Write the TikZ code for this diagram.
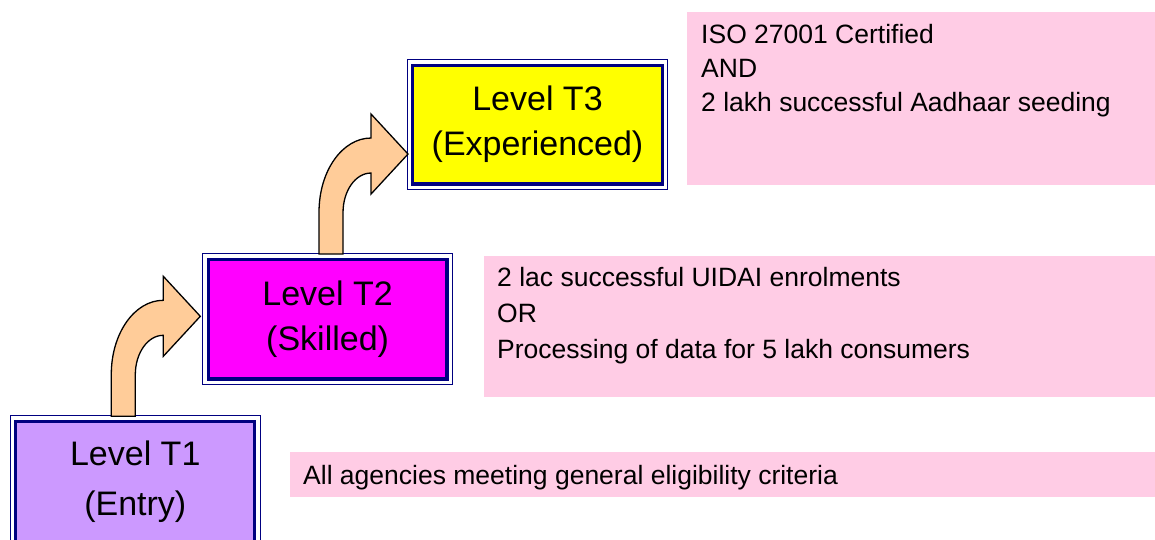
\documentclass[tikz,border=0pt]{standalone}
\usepackage{fontspec}
\setmainfont{Liberation Sans}
\definecolor{navyline}{HTML}{000080}
\definecolor{entryfill}{HTML}{CC99FF}
\definecolor{skillfill}{HTML}{FF00FF}
\definecolor{expfill}{HTML}{FFFF00}
\definecolor{condpink}{HTML}{FFCCE5}
\definecolor{peach}{HTML}{FFCC99}
\tikzset{
	bentup/.pic={
		\draw[bentbody] (0,0) -- (0,-42)
		.. controls (0,-83) and (23.3,-116) .. (52,-116)
		-- (52,-140) -- (89,-100) -- (52,-60) -- (52,-81)
		.. controls (36.5,-81) and (24,-63.3) .. (24,-41.5)
		-- (24,0) -- cycle;
	}
}
\begin{document}
\begin{tikzpicture}[x=1pt,y=-1pt,line join=miter,
			level/.style={draw=navyline,line width=3.4pt,align=center,
				inner sep=0pt,font=\fontsize{34}{45}\selectfont},
			cond/.style={fill=condpink,inner sep=0pt,anchor=north west},
			condtext/.style={anchor=base west,align=left,inner sep=0pt,
				font=\fontsize{26.5}{34}\selectfont},
			bentbody/.style={fill=peach,draw=black,line width=1.3pt}]
	\path[use as bounding box,fill=white] (0,0) rectangle (1155,539);
	% level boxes
	\node[level,fill=entryfill,minimum width=239,minimum height=121,
		font=\fontsize{34}{49.5}\selectfont]
		(t1) at (135.25,481.75) {Level T1\\(Entry)};
	\node[level,fill=skillfill,minimum width=238.75,minimum height=119.75]
		(t2) at (327.6,319.1) {Level T2\\(Skilled)};
	\node[level,fill=expfill,minimum width=250,minimum height=118.75]
		(t3) at (537.5,124.6) {Level T3\\(Experienced)};
	\foreach \n in {t1,t2,t3}
		\draw[navyline,line width=1pt]
			([shift={(-3.75,3.75)}]\n.south west) rectangle
			([shift={(3.75,-3.75)}]\n.north east);
	% conditions (base = last line)
	\node[cond,minimum width=468,minimum height=173] (p3) at (687,12) {};
	\node[cond,minimum width=671,minimum height=141] (p2) at (484,256) {};
	\node[cond,minimum width=865,minimum height=45] (p1) at (290,452) {};
	\node[condtext] (c3) at ([shift={(14,99.7)}]p3.north west)
		{ISO 27001 Certified\\AND\\2 lakh successful Aadhaar seeding};
	\node[condtext,font=\fontsize{26.5}{36}\selectfont] (c2)
		at ([shift={(13,102.3)}]p2.north west)
		{2 lac successful UIDAI enrolments\\OR\\Processing of data for 5 lakh consumers};
	\node[condtext] (c1) at ([shift={(13,32)}]p1.north west)
		{All agencies meeting general eligibility criteria};
	% arrows
	\pic at ([shift={(97.25,-3.25)}]t1.north west) {bentup};
	\pic at ([shift={(112.5,-3.5)}]t2.north west) {bentup};
\end{tikzpicture}
\end{document}
